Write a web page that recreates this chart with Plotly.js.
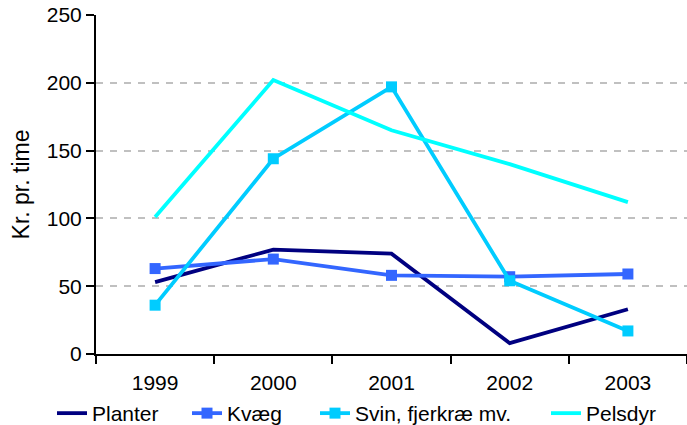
<!DOCTYPE html>
<html>
<head>
<meta charset="utf-8">
<script src="https://cdn.plot.ly/plotly-3.0.1.min.js"></script>
<style>html,body{margin:0;padding:0;background:#fff;}#chart{width:687px;height:425px;}</style>
</head>
<body>
<div id="chart"></div>
<script>
const years = ["1999", "2000", "2001", "2002", "2003"];
const planter = [53, 77, 74, 8, 33];
const kvaeg = [63, 70, 58, 57, 59];
const svin = [36, 144, 197, 54, 17];
const pelsdyr = [101, 202, 165, 140, 112];
const yTicks = [0, 50, 100, 150, 200, 250];
const yTitle = "Kr. pr. time";

const font = {family: "Liberation Sans, Arial, sans-serif", color: "#000"};

const traces = [
  {x: years, y: planter, name: "Planter", type: "scatter", mode: "lines", legend: "legend",
   line: {color: "#000080", width: 3.8}},
  {x: years, y: kvaeg, name: "Kvæg", type: "scatter", mode: "lines+markers", legend: "legend2",
   line: {color: "#3366FF", width: 3.8}, marker: {symbol: "square", size: 11, color: "#3366FF"}},
  {x: years, y: svin, name: "Svin, fjerkræ mv.", type: "scatter", mode: "lines+markers", legend: "legend3",
   line: {color: "#00CCFF", width: 3.8}, marker: {symbol: "square", size: 11, color: "#00CCFF"}},
  {x: years, y: pelsdyr, name: "Pelsdyr", type: "scatter", mode: "lines", legend: "legend4",
   line: {color: "#00FFFF", width: 3.8}}
];

function leg(xpx) {
  return {orientation: "h", xref: "container", x: xpx / 687, xanchor: "left",
          y: -0.115, yanchor: "top", font: Object.assign({size: 21}, font),
          bgcolor: "rgba(0,0,0,0)", borderwidth: 0};
}

const layout = {
  width: 687, height: 425,
  margin: {l: 96, r: 0, t: 15, b: 71, autoexpand: false},
  paper_bgcolor: "#fff", plot_bgcolor: "#fff",
  font: Object.assign({size: 20}, font),
  showlegend: true,
  legend: leg(52),
  legend2: leg(187),
  legend3: leg(315),
  legend4: leg(546),
  xaxis: {type: "category", range: [-0.5, 4.5], showline: true, linecolor: "#000", linewidth: 2,
          ticks: "outside", tickson: "boundaries", ticklen: 8, tickwidth: 2, tickcolor: "#000",
          ticklabelstandoff: 9,
          tickangle: 0, showgrid: false, zeroline: false, tickfont: Object.assign({size: 21}, font)},
  yaxis: {range: [0, 250], tickvals: yTicks, ticktext: yTicks.map(String),
          showline: true, linecolor: "#000", linewidth: 2,
          ticks: "outside", ticklen: 8, tickwidth: 2, tickcolor: "#000",
          showgrid: true, gridcolor: "#C0C0C0", griddash: "7px,7px", gridwidth: 2,
          zeroline: false, tickfont: Object.assign({size: 21}, font)},
  annotations: [{text: yTitle, xref: "paper", yref: "paper", x: -0.127, y: 0.5,
                 xanchor: "center", yanchor: "middle", textangle: -90, showarrow: false,
                 font: Object.assign({size: 23}, font)}]
};

Plotly.newPlot("chart", traces, layout, {displayModeBar: false, staticPlot: true});
</script>
</body>
</html>
